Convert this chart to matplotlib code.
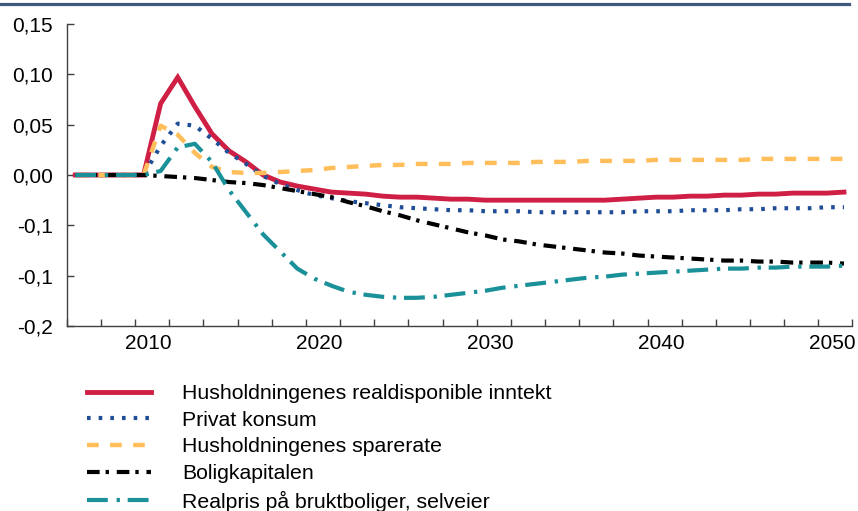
import matplotlib
matplotlib.use("Agg")
import matplotlib.pyplot as plt
from matplotlib.lines import Line2D

plt.rcParams['font.family'] = ['Liberation Sans', 'DejaVu Sans']
plt.rcParams['lines.scale_dashes'] = False

years = list(range(2006, 2052))

realdisp = [0, 0, 0, 0, 0, 0.071, 0.097, 0.068, 0.041, 0.024, 0.013, 0.0, -0.007, -0.011,
            -0.014, -0.017, -0.018, -0.019, -0.021, -0.022, -0.022, -0.023, -0.024, -0.024,
            -0.025, -0.025, -0.025, -0.025, -0.025, -0.025, -0.025, -0.025, -0.024, -0.023,
            -0.022, -0.022, -0.021, -0.021, -0.020, -0.020, -0.019, -0.019, -0.018, -0.018,
            -0.018, -0.017]
konsum = [0, 0, 0, 0, 0, 0.029, 0.051, 0.049, 0.036, 0.022, 0.011, -0.001, -0.009, -0.015,
          -0.020, -0.023, -0.026, -0.028, -0.030, -0.032, -0.033, -0.034, -0.035, -0.035,
          -0.036, -0.036, -0.036, -0.037, -0.037, -0.037, -0.037, -0.037, -0.037, -0.036,
          -0.036, -0.036, -0.035, -0.035, -0.035, -0.034, -0.034, -0.033, -0.033, -0.033,
          -0.032, -0.032]
sparerate = [0, 0, 0, 0, 0, 0.049, 0.040, 0.022, 0.008, 0.003, 0.002, 0.002, 0.003, 0.004,
             0.005, 0.007, 0.008, 0.009, 0.010, 0.010, 0.011, 0.011, 0.011, 0.012, 0.012,
             0.012, 0.012, 0.013, 0.013, 0.013, 0.014, 0.014, 0.014, 0.014, 0.015, 0.015,
             0.015, 0.015, 0.015, 0.015, 0.016, 0.016, 0.016, 0.016, 0.016, 0.016]
boligkap = [0, 0, 0, 0, 0, -0.001, -0.002, -0.003, -0.005, -0.007, -0.008, -0.010, -0.013,
            -0.016, -0.019, -0.022, -0.027, -0.031, -0.036, -0.040, -0.045, -0.049, -0.053,
            -0.057, -0.060, -0.064, -0.066, -0.069, -0.071, -0.073, -0.075, -0.077, -0.078,
            -0.080, -0.081, -0.082, -0.083, -0.084, -0.085, -0.085, -0.086, -0.086, -0.087,
            -0.087, -0.087, -0.088]
realpris = [0, 0, 0, 0, 0, 0.004, 0.0275, 0.031, 0.013, -0.015, -0.037, -0.059, -0.076,
            -0.093, -0.103, -0.110, -0.116, -0.119, -0.121, -0.122, -0.122, -0.121, -0.119,
            -0.117, -0.115, -0.112, -0.110, -0.108, -0.106, -0.104, -0.102, -0.101, -0.099,
            -0.098, -0.097, -0.096, -0.095, -0.094, -0.093, -0.093, -0.092, -0.092, -0.091,
            -0.091, -0.091, -0.090]

labels = ["Husholdningenes realdisponible inntekt", "Privat konsum",
          "Husholdningenes sparerate", "Boligkapitalen",
          "Realpris på bruktboliger, selveier"]

ytick_values = [0.15, 0.10, 0.05, 0.0, -0.05, -0.10, -0.15]
ytick_labels = ["0,15", "0,10", "0,05", "0,00", "-0,1", "-0,1", "-0,2"]
xlabel_years = [2010, 2020, 2030, 2040, 2050]

FS = 15
LFS = 15.3

fig = plt.figure(figsize=(8.58, 5.11), dpi=100)
ax = fig.add_axes([66.7 / 858, 185 / 511, (852.5 - 66.7) / 858, (326 - 24) / 511])

series = [realdisp, konsum, sparerate, boligkap, realpris]
styles = [
    dict(color='#D01F45', lw=3.5, ls='-'),
    dict(color='#1F4E96', lw=3.0, ls=(0, (2.6, 5.8)), dash_capstyle='butt'),
    dict(color='#FFBE5A', lw=3.2, ls=(0, (8.4, 8.2)), dash_capstyle='butt'),
    dict(color='#000000', lw=3.0, ls=(0, (9.1, 4.3, 2.4, 5.6)), dash_capstyle='butt'),
    dict(color='#1A9099', lw=3.0, ls=(0, (15, 6.3, 2.4, 5.6)), dash_capstyle='butt'),
]
handles = []
for s, lab, st in zip(series, labels, styles):
    h, = ax.plot(years, s, label=lab, solid_joinstyle='miter', **st)
    handles.append(h)

ax.set_xlim(years[0] - 0.5, years[-1] + 0.5)
ax.set_ylim(-0.15, 0.15)

for sp in ['top', 'right']:
    ax.spines[sp].set_visible(False)
for sp in ['left', 'bottom']:
    ax.spines[sp].set_color('#404040')
    ax.spines[sp].set_linewidth(1.0)

ax.set_yticks(ytick_values)
ax.set_yticklabels(ytick_labels)
ax.tick_params(axis='y', direction='in', length=5, width=1, color='#404040',
               labelsize=FS, pad=10)

# tick marks every second category boundary, labels every 10 years
boundaries = [years[0] - 0.5 + 2 * k for k in range(len(years) // 2 + 1)]
ax.set_xticks(boundaries, minor=True)
ax.set_xticks([y + 0.3 for y in xlabel_years])
ax.set_xticklabels([str(y) for y in xlabel_years])
ax.tick_params(axis='x', which='major', length=0, labelsize=FS, pad=6)
ax.tick_params(axis='x', which='minor', direction='in', length=5, width=1, color='#404040')

fig.legend(handles=handles, loc='upper left', bbox_to_anchor=(87 / 858, 1 - 384 / 511),
           frameon=False, fontsize=LFS, handlelength=3.01, handletextpad=1.46,
           labelspacing=0.36, borderpad=0, borderaxespad=0)

fig.add_artist(Line2D([0, 0.99], [1 - 4.5 / 511, 1 - 4.5 / 511], color='#3F587D', lw=2.3,
                      transform=fig.transFigure))

fig.savefig('out.png', dpi=100)
